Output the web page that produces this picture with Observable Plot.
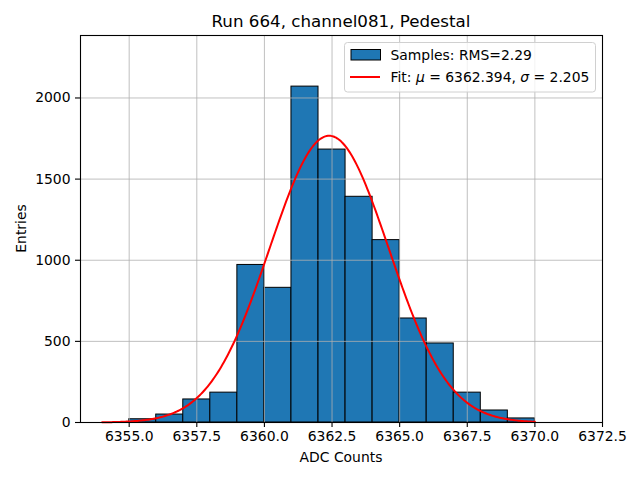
<!DOCTYPE html>
<html>
<head>
<meta charset="utf-8">
<script src="https://cdn.jsdelivr.net/npm/d3@7"></script>
<script src="https://cdn.jsdelivr.net/npm/@observablehq/plot@0.6"></script>
<style>
  html, body { margin: 0; padding: 0; background: #fff; }
  #chart svg { display: block; }
</style>
</head>
<body>
<div id="chart"></div>
<script>
// Histogram bins (left edges, width 1 ADC count) and entries
const binStarts = [6355, 6356, 6357, 6358, 6359, 6360, 6361, 6362, 6363, 6364, 6365, 6366, 6367, 6368, 6369];
const counts    = [20, 49, 142, 184, 971, 830, 2070, 1682, 1391, 1124, 641, 487, 184, 74, 25];
const binWidth = 1;

// Gaussian fit parameters
const fitMu = 6362.394;
const fitSigma = 2.205;
const fitAmp = 1767;
const fitRange = [6354, 6370];

const xTicks = [6355.0, 6357.5, 6360.0, 6362.5, 6365.0, 6367.5, 6370.0, 6372.5];
const yTicks = [0, 500, 1000, 1500, 2000];

const titleText = "Run 664, channel081, Pedestal";
const xLabel = "ADC Counts";
const yLabel = "Entries";
const legendSamples = "Samples: RMS=2.29";

const bars = binStarts.map((s, i) => ({x1: s, x2: s + binWidth, y: counts[i]}));
const fitX = d3.range(fitRange[0], fitRange[1] + 1e-9, 0.05);
const fit = fitX.map(x => ({x, y: fitAmp * Math.exp(-0.5 * ((x - fitMu) / fitSigma) ** 2)}));

const W = 640, H = 480;
const mL = 80, mR = 38, mT = 35, mB = 58;
const font = "DejaVu Sans, sans-serif";
const fs = 13.9;

const plot = Plot.plot({
  width: W, height: H,
  marginLeft: mL, marginRight: mR, marginTop: mT, marginBottom: mB,
  style: {fontFamily: font, fontSize: fs + "px", color: "#000", background: "#fff"},
  x: {domain: [6353.2, 6372.5]},
  y: {domain: [0, 2385]},
  marks: [
    Plot.rectX(bars, {x1: "x1", x2: "x2", y1: 0, y2: "y", fill: "#1f77b4", stroke: "#000", strokeWidth: 1}),
    Plot.gridX(xTicks, {stroke: "#b0b0b0", strokeOpacity: 1, strokeWidth: 0.8}),
    Plot.gridY(yTicks, {stroke: "#b0b0b0", strokeOpacity: 1, strokeWidth: 0.8}),
    Plot.line(fit, {x: "x", y: "y", stroke: "red", strokeWidth: 2}),
    Plot.frame({stroke: "#000", strokeWidth: 1.1}),
    Plot.axisX(xTicks, {tickFormat: d3.format(".1f"), tickSize: 5, tickPadding: 4, fontSize: fs, label: null, strokeWidth: 1.1}),
    Plot.axisY(yTicks, {tickFormat: d => String(d), tickSize: 5, tickPadding: 5, fontSize: fs, label: null, strokeWidth: 1.1})
  ]
});

document.getElementById("chart").appendChild(plot);

const svg = d3.select(plot);
const cx = (mL + (W - mR)) / 2;

// Title
svg.append("text").attr("x", cx).attr("y", 27).attr("text-anchor", "middle")
  .attr("font-family", font).attr("font-size", 16.7).attr("fill", "#000").text(titleText);
// Axis labels
svg.append("text").attr("x", cx).attr("y", 462).attr("text-anchor", "middle")
  .attr("font-family", font).attr("font-size", fs).attr("fill", "#000").text(xLabel);
svg.append("text").attr("transform", `translate(26,${(mT + H - mB) / 2}) rotate(-90)`)
  .attr("text-anchor", "middle")
  .attr("font-family", font).attr("font-size", fs).attr("fill", "#000").text(yLabel);

// Legend
const lg = svg.append("g").attr("text-anchor", "start");
lg.append("rect").attr("x", 344.5).attr("y", 42.5).attr("width", 251).attr("height", 49.5)
  .attr("rx", 3).attr("fill", "#fff").attr("fill-opacity", 0.8).attr("stroke", "#d0d0d0").attr("stroke-width", 1);
lg.append("rect").attr("x", 351).attr("y", 49.5).attr("width", 29.5).attr("height", 10.5)
  .attr("fill", "#1f77b4").attr("stroke", "#000").attr("stroke-width", 1);
lg.append("line").attr("x1", 350).attr("x2", 380).attr("y1", 77).attr("y2", 77)
  .attr("stroke", "red").attr("stroke-width", 2);
lg.append("text").attr("x", 390.5).attr("y", 59.5).attr("text-anchor", "start").attr("font-family", font).attr("font-size", fs)
  .attr("fill", "#000").text(legendSamples);
const t2 = lg.append("text").attr("x", 390.5).attr("y", 82).attr("text-anchor", "start").attr("font-family", font).attr("font-size", fs).attr("fill", "#000");
t2.append("tspan").text("Fit: ");
t2.append("tspan").attr("font-style", "italic").text("μ");
t2.append("tspan").text(" = " + fitMu.toFixed(3) + ", ");
t2.append("tspan").attr("font-style", "italic").text("σ");
t2.append("tspan").text(" = " + fitSigma.toFixed(3));
</script>
</body>
</html>
